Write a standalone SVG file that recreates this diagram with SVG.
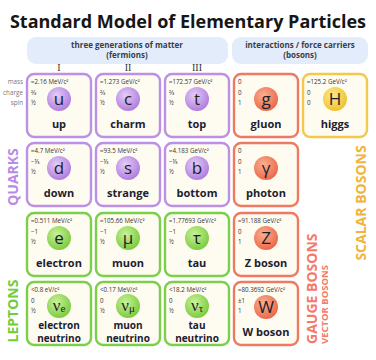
<svg xmlns="http://www.w3.org/2000/svg" width="376" height="360" viewBox="0 0 376 360">
<defs>
<radialGradient id="gq" cx="40%" cy="35%" r="70%"><stop offset="0" stop-color="#e4cdf7"/><stop offset="1" stop-color="#ad78dd"/></radialGradient>
<radialGradient id="gl" cx="40%" cy="35%" r="70%"><stop offset="0" stop-color="#c9f29a"/><stop offset="1" stop-color="#77c93a"/></radialGradient>
<radialGradient id="gg" cx="40%" cy="35%" r="70%"><stop offset="0" stop-color="#fab092"/><stop offset="1" stop-color="#ea6445"/></radialGradient>
<radialGradient id="gh" cx="40%" cy="35%" r="70%"><stop offset="0" stop-color="#fce888"/><stop offset="1" stop-color="#eec12c"/></radialGradient>
</defs>
<style>
text{font-family:"Open Sans","Noto Sans","DejaVu Sans",sans-serif;}
.title{font-size:18px;font-weight:bold;fill:#161616;text-anchor:middle;}
.hdr{fill:#e3ecfb;}
.ht{font-size:8px;font-weight:bold;fill:#3a3d48;text-anchor:middle;}
.rom{font-family:"Liberation Serif","DejaVu Serif",serif;font-size:10px;fill:#333;text-anchor:middle;}
.lab{font-size:6.3px;fill:#7a7a7a;text-anchor:end;}
.cell{fill:#fefbf1;stroke-width:2.4;}
.q{stroke:#bc90e4;}
.l{stroke:#7ccf48;}
.b{stroke:#ee7a62;}
.h{stroke:#f3c94c;}
.m{font-size:6.2px;fill:#333;}
.sym{font-size:17px;fill:#1e1e28;text-anchor:middle;}
.nu{font-family:"Liberation Serif","DejaVu Serif",serif;font-size:17px;fill:#1e1e28;text-anchor:middle;}
.nm{font-size:11px;font-weight:bold;fill:#1b2130;text-anchor:middle;}
.nm2{font-size:10px;font-weight:bold;fill:#1b2130;text-anchor:middle;}
.side{font-size:14px;font-weight:bold;}
</style>
<rect width="376" height="360" fill="#ffffff"/>
<text class="title" x="188" y="28">Standard Model of Elementary Particles</text>
<rect class="hdr" x="27" y="37" width="201" height="27" rx="9"/>
<rect class="hdr" x="232" y="37" width="136" height="27" rx="9"/>
<text class="ht" x="127" y="48">three generations of matter</text>
<text class="ht" x="127" y="58">(fermions)</text>
<text class="ht" x="300" y="48">interactions / force carriers</text>
<text class="ht" x="300" y="58">(bosons)</text>
<text class="rom" x="59" y="71">I</text>
<text class="rom" x="128" y="71">II</text>
<text class="rom" x="197" y="71">III</text>
<text class="lab" x="23" y="84">mass</text>
<text class="lab" x="23" y="95">charge</text>
<text class="lab" x="23" y="105">spin</text>

<g id="up"><rect class="cell q" x="27" y="74" width="64" height="63" rx="7"/><text class="m" x="31" y="84">≈2.16 MeV/c²</text><text class="m" x="31" y="95">⅔</text><text class="m" x="31" y="105">½</text><circle cx="59" cy="99" r="12" fill="url(#gq)"/><text class="sym" x="59" y="105">u</text><text class="nm" x="59" y="128">up</text></g>
<g id="charm"><rect class="cell q" x="96" y="74" width="64" height="63" rx="7"/><text class="m" x="100" y="84">≈1.273 GeV/c²</text><text class="m" x="100" y="95">⅔</text><text class="m" x="100" y="105">½</text><circle cx="128" cy="99" r="12" fill="url(#gq)"/><text class="sym" x="128" y="105">c</text><text class="nm" x="128" y="128">charm</text></g>
<g id="top"><rect class="cell q" x="165" y="74" width="64" height="63" rx="7"/><text class="m" x="169" y="84">≈172.57 GeV/c²</text><text class="m" x="169" y="95">⅔</text><text class="m" x="169" y="105">½</text><circle cx="197" cy="99" r="12" fill="url(#gq)"/><text class="sym" x="197" y="105">t</text><text class="nm" x="197" y="128">top</text></g>
<g id="gluon"><rect class="cell b" x="234" y="74" width="64" height="63" rx="7"/><text class="m" x="238" y="84">0</text><text class="m" x="238" y="95">0</text><text class="m" x="238" y="105">1</text><circle cx="266" cy="99" r="12" fill="url(#gg)"/><text class="sym" x="266" y="105">g</text><text class="nm" x="266" y="128">gluon</text></g>
<g id="higgs"><rect class="cell h" x="303" y="74" width="64" height="63" rx="7"/><text class="m" x="307" y="84">≈125.2 GeV/c²</text><text class="m" x="307" y="95">0</text><text class="m" x="307" y="105">0</text><circle cx="335" cy="99" r="12" fill="url(#gh)"/><text class="sym" x="335" y="105">H</text><text class="nm" x="335" y="128">higgs</text></g>

<g id="down"><rect class="cell q" x="27" y="143" width="64" height="63" rx="7"/><text class="m" x="31" y="153">≈4.7 MeV/c²</text><text class="m" x="31" y="164">−⅓</text><text class="m" x="31" y="174">½</text><circle cx="59" cy="168" r="12" fill="url(#gq)"/><text class="sym" x="59" y="174">d</text><text class="nm" x="59" y="197">down</text></g>
<g id="strange"><rect class="cell q" x="96" y="143" width="64" height="63" rx="7"/><text class="m" x="100" y="153">≈93.5 MeV/c²</text><text class="m" x="100" y="164">−⅓</text><text class="m" x="100" y="174">½</text><circle cx="128" cy="168" r="12" fill="url(#gq)"/><text class="sym" x="128" y="174">s</text><text class="nm" x="128" y="197">strange</text></g>
<g id="bottom"><rect class="cell q" x="165" y="143" width="64" height="63" rx="7"/><text class="m" x="169" y="153">≈4.183 GeV/c²</text><text class="m" x="169" y="164">−⅓</text><text class="m" x="169" y="174">½</text><circle cx="197" cy="168" r="12" fill="url(#gq)"/><text class="sym" x="197" y="174">b</text><text class="nm" x="197" y="197">bottom</text></g>
<g id="photon"><rect class="cell b" x="234" y="143" width="64" height="63" rx="7"/><text class="m" x="238" y="153">0</text><text class="m" x="238" y="164">0</text><text class="m" x="238" y="174">1</text><circle cx="266" cy="168" r="12" fill="url(#gg)"/><text class="sym" x="266" y="174">γ</text><text class="nm" x="266" y="197">photon</text></g>

<g id="electron"><rect class="cell l" x="27" y="213" width="64" height="63" rx="7"/><text class="m" x="31" y="223">≈0.511 MeV/c²</text><text class="m" x="31" y="234">−1</text><text class="m" x="31" y="244">½</text><circle cx="59" cy="238" r="12" fill="url(#gl)"/><text class="sym" x="59" y="244">e</text><text class="nm" x="59" y="267">electron</text></g>
<g id="muon"><rect class="cell l" x="96" y="213" width="64" height="63" rx="7"/><text class="m" x="100" y="223">≈105.66 MeV/c²</text><text class="m" x="100" y="234">−1</text><text class="m" x="100" y="244">½</text><circle cx="128" cy="238" r="12" fill="url(#gl)"/><text class="sym" x="128" y="244">μ</text><text class="nm" x="128" y="267">muon</text></g>
<g id="tau"><rect class="cell l" x="165" y="213" width="64" height="63" rx="7"/><text class="m" x="169" y="223">≈1.77693 GeV/c²</text><text class="m" x="169" y="234">−1</text><text class="m" x="169" y="244">½</text><circle cx="197" cy="238" r="12" fill="url(#gl)"/><text class="sym" x="197" y="244">τ</text><text class="nm" x="197" y="267">tau</text></g>
<g id="zboson"><rect class="cell b" x="234" y="213" width="64" height="63" rx="7"/><text class="m" x="238" y="223">≈91.188 GeV/c²</text><text class="m" x="238" y="234">0</text><text class="m" x="238" y="244">1</text><circle cx="266" cy="238" r="12" fill="url(#gg)"/><text class="sym" x="266" y="244">Z</text><text class="nm" x="266" y="267">Z boson</text></g>

<g id="electron-neutrino"><rect class="cell l" x="27" y="282" width="64" height="63" rx="7"/><text class="m" x="31" y="292">&lt;0.8 eV/c²</text><text class="m" x="31" y="303">0</text><text class="m" x="31" y="313">½</text><circle cx="59" cy="306" r="12" fill="url(#gl)"/><text class="nu" x="59" y="311">ν<tspan font-size="11" dy="1">e</tspan></text><text class="nm2" x="59" y="328.5">electron</text><text class="nm2" x="59" y="342">neutrino</text></g>
<g id="muon-neutrino"><rect class="cell l" x="96" y="282" width="64" height="63" rx="7"/><text class="m" x="100" y="292">&lt;0.17 MeV/c²</text><text class="m" x="100" y="303">0</text><text class="m" x="100" y="313">½</text><circle cx="128" cy="306" r="12" fill="url(#gl)"/><text class="nu" x="128" y="311">ν<tspan font-size="11" dy="1">μ</tspan></text><text class="nm2" x="128" y="328.5">muon</text><text class="nm2" x="128" y="342">neutrino</text></g>
<g id="tau-neutrino"><rect class="cell l" x="165" y="282" width="64" height="63" rx="7"/><text class="m" x="169" y="292">&lt;18.2 MeV/c²</text><text class="m" x="169" y="303">0</text><text class="m" x="169" y="313">½</text><circle cx="197" cy="306" r="12" fill="url(#gl)"/><text class="nu" x="197" y="311">ν<tspan font-size="11" dy="1">τ</tspan></text><text class="nm2" x="197" y="328.5">tau</text><text class="nm2" x="197" y="342">neutrino</text></g>
<g id="wboson"><rect class="cell b" x="234" y="282" width="64" height="63" rx="7"/><text class="m" x="238" y="292">≈80.3692 GeV/c²</text><text class="m" x="238" y="303">±1</text><text class="m" x="238" y="313">1</text><circle cx="266" cy="307" r="12" fill="url(#gg)"/><text class="sym" x="266" y="313">W</text><text class="nm" x="266" y="336">W boson</text></g>

<g id="labels">
<text class="side" fill="#b98ae6" text-anchor="middle" transform="translate(18,177) rotate(-90)">QUARKS</text>
<text class="side" fill="#72cc3c" text-anchor="middle" transform="translate(18,311) rotate(-90)">LEPTONS</text>
<text class="side" fill="#f47a6a" text-anchor="start" transform="translate(317,344) rotate(-90)">GAUGE BOSONS</text>
<text font-size="9.5" font-weight="bold" fill="#f47a6a" text-anchor="start" transform="translate(328,344) rotate(-90)">VECTOR BOSONS</text>
<text class="side" fill="#f0b43c" text-anchor="middle" transform="translate(366,203) rotate(-90)">SCALAR BOSONS</text>
</g>
</svg>
